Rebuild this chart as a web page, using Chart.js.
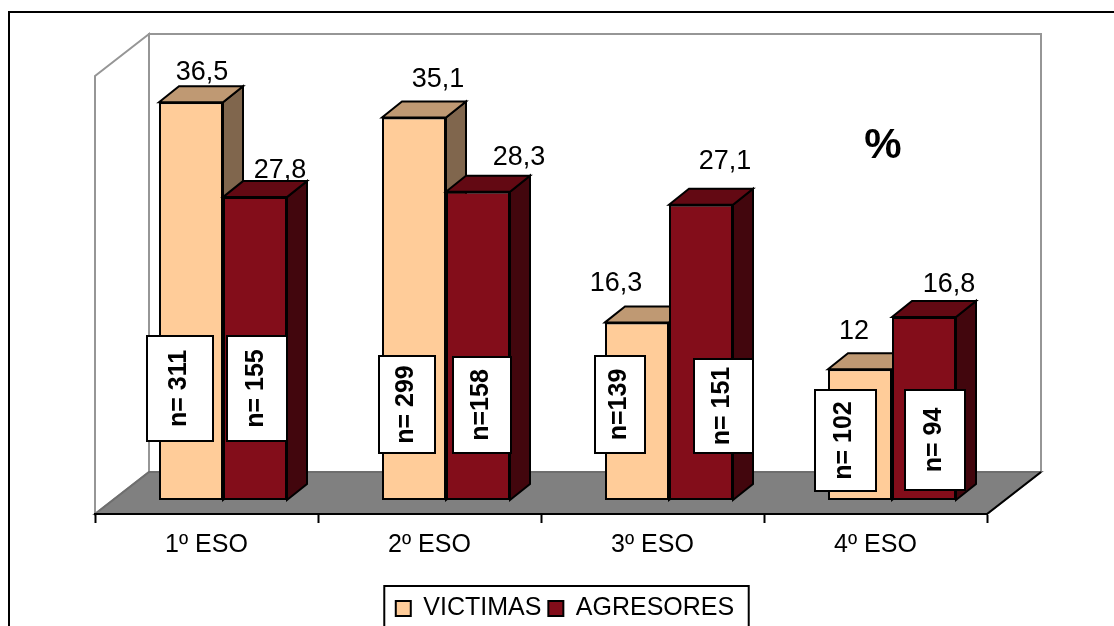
<!DOCTYPE html>
<html>
<head>
<meta charset="utf-8">
<title>Victimas y agresores por curso</title>
<script src="https://cdn.jsdelivr.net/npm/chart.js@4"></script>
<style>
html, body { margin: 0; padding: 0; background: #fff; overflow: hidden; }
canvas { display: block; }
</style>
</head>
<body>
<canvas id="chart" width="1114" height="626"></canvas>
<script>
const categories = ["1º ESO", "2º ESO", "3º ESO", "4º ESO"];
const victimas = [36.5, 35.1, 16.3, 12];
const agresores = [27.8, 28.3, 27.1, 16.8];
const nVictimas = ["n= 311", "n= 299", "n=139", "n= 102"];
const nAgresores = ["n= 155", "n=158", "n= 151", "n= 94"];

// hand placed things from the original, not data
const noteBoxesV = [[147, 336, 213, 441], [379, 356, 435, 453], [595, 356, 645, 453], [815, 390, 876, 491]];
const noteBoxesA = [[227, 336, 287, 441], [453, 357, 511, 453], [694, 359, 753, 453], [905, 390, 965, 490]];
const labelNudgeV = [[1, -6], [14, -15], [-31, -15], [-16, -14]];
const labelNudgeA = [[15, -3], [31, -11], [14, -20], [15, -9]];

const FONT = '"Liberation Sans", Arial, sans-serif';
const wall = { x: 54, y: -42 };
const plane = { x: 16.5, y: -14 };
const depth = { x: 20, y: -16 };

const faces = [
    { top: "#BF9973", side: "#80664D" },
    { top: "#630913", side: "#42060D" }
];

function poly(ctx, pts, fill, stroke, width) {
    ctx.beginPath();
    pts.forEach(function(p, i) {
        if(i === 0) ctx.moveTo(p[0], p[1]); else ctx.lineTo(p[0], p[1]);
    });
    ctx.closePath();
    if(fill) { ctx.fillStyle = fill; ctx.fill(); }
    if(stroke) { ctx.strokeStyle = stroke; ctx.lineWidth = width; ctx.lineJoin = "miter"; ctx.stroke(); }
}

const scene = {
    id: "scene",
    beforeDraw(chart) {
        const ctx = chart.ctx;
        const a = chart.chartArea;
        ctx.save();
        // outer frame, only top and left are in the shot
        ctx.strokeStyle = "#000";
        ctx.lineWidth = 2;
        ctx.beginPath();
        ctx.moveTo(9, 626);
        ctx.lineTo(9, 12);
        ctx.lineTo(1114, 12);
        ctx.stroke();

        // left wall and back wall
        poly(ctx, [[a.left, a.top], [a.left + wall.x, a.top + wall.y], [a.left + wall.x, a.bottom + wall.y], [a.left, a.bottom]], "#fff", "#969696", 2);
        poly(ctx, [[a.left + wall.x, a.top + wall.y], [a.right + wall.x, a.top + wall.y], [a.right + wall.x, a.bottom + wall.y], [a.left + wall.x, a.bottom + wall.y]], "#fff", "#969696", 2);

        // floor
        poly(ctx, [[a.left, a.bottom], [a.left + wall.x, a.bottom + wall.y], [a.right + wall.x, a.bottom + wall.y], [a.right, a.bottom]], "#808080", "#6e6e6e", 2);
        ctx.strokeStyle = "#000";
        ctx.lineWidth = 2;
        ctx.beginPath();
        ctx.moveTo(a.right, a.bottom);
        ctx.lineTo(a.right + wall.x, a.bottom + wall.y);
        ctx.stroke();
        ctx.restore();
    },
    // bars are drawn below in series order, so the red front covers the sand side face
    beforeDatasetDraw() {
        return false;
    },
    afterDatasetsDraw(chart) {
        const ctx = chart.ctx;
        ctx.save();
        ctx.translate(plane.x, plane.y);
        [0, 1].forEach(function(d) {
            const meta = chart.getDatasetMeta(d);
            const c = faces[d];
            meta.controller.draw();
            meta.data.forEach(function(bar) {
                const l = bar.x - bar.width / 2;
                const r = bar.x + bar.width / 2;
                poly(ctx, [[r, bar.y], [r + depth.x, bar.y + depth.y], [r + depth.x, bar.base + depth.y], [r, bar.base]], c.side, "#000", 2);
                poly(ctx, [[l, bar.y], [l + depth.x, bar.y + depth.y], [r + depth.x, bar.y + depth.y], [r, bar.y]], c.top, "#000", 2);
            });
        });
        ctx.restore();
        ctx.save();

        // value labels
        ctx.fillStyle = "#000";
        ctx.font = "27px " + FONT;
        ctx.textAlign = "center";
        ctx.textBaseline = "alphabetic";
        [[victimas, labelNudgeV], [agresores, labelNudgeA]].forEach(function(set, d) {
            chart.getDatasetMeta(d).data.forEach(function(bar, i) {
                const x = bar.x + plane.x + depth.x / 2 + set[1][i][0];
                const y = bar.y + plane.y + depth.y + set[1][i][1];
                ctx.fillText(String(set[0][i]).replace(".", ","), x, y);
            });
        });

        // n= boxes
        [[nVictimas, noteBoxesV], [nAgresores, noteBoxesA]].forEach(function(set) {
            set[0].forEach(function(txt, i) {
                const b = set[1][i];
                ctx.fillStyle = "#fff";
                ctx.strokeStyle = "#000";
                ctx.lineWidth = 2;
                ctx.fillRect(b[0], b[1], b[2] - b[0], b[3] - b[1]);
                ctx.strokeRect(b[0], b[1], b[2] - b[0], b[3] - b[1]);
                ctx.save();
                ctx.translate((b[0] + b[2]) / 2 - 1, (b[1] + b[3]) / 2);
                ctx.rotate(-Math.PI / 2);
                ctx.fillStyle = "#000";
                ctx.font = "bold 25px " + FONT;
                ctx.textAlign = "center";
                ctx.textBaseline = "middle";
                ctx.fillText(txt, 0, 0);
                ctx.restore();
            });
        });

        ctx.fillStyle = "#000";
        ctx.font = "bold 42px " + FONT;
        ctx.textAlign = "center";
        ctx.textBaseline = "middle";
        ctx.fillText("%", 883, 146);
        ctx.restore();
    },
    afterLayout(chart) {
        // the legend sits off centre and low in the original
        chart.legend.left += 24;
        chart.legend.right += 24;
        chart.legend.top += 5;
        chart.legend.bottom += 5;
    },
    afterDraw(chart) {
        const ctx = chart.ctx;
        const lg = chart.legend;
        const w = lg.lineWidths[0] + 19;
        const cx = (lg.left + lg.right) / 2 + 1.5;
        ctx.save();
        ctx.strokeStyle = "#000";
        ctx.lineWidth = 2;
        ctx.strokeRect(cx - w / 2, lg.top - 3, w, lg.height);
        ctx.restore();
    }
};

new Chart(document.getElementById("chart"), {
    type: "bar",
    data: {
        labels: categories,
        datasets: [{
            label: "VICTIMAS",
            data: victimas,
            backgroundColor: "#FFCC99",
            borderColor: "#000",
            borderWidth: 2,
            borderSkipped: false,
            clip: false
        }, {
            label: "AGRESORES",
            data: agresores,
            backgroundColor: "#830D1A",
            borderColor: "#000",
            borderWidth: 2,
            borderSkipped: false,
            clip: false
        }]
    },
    options: {
        responsive: false,
        animation: false,
        events: [],
        categoryPercentage: 0.574,
        barPercentage: 1,
        layout: { padding: { left: 95, right: 127, top: 76, bottom: 0 } },
        scales: {
            x: {
                grid: { offset: true, drawOnChartArea: false, drawTicks: true, tickLength: 9, color: "#000", tickColor: "#000", tickWidth: 2 },
                border: { display: true, color: "#000", width: 2 },
                ticks: { color: "#000", font: { family: FONT, size: 25 }, padding: 7, maxRotation: 0, autoSkip: false },
                afterFit(scale) { scale.height = 70; }
            },
            y: { display: false, min: 0, max: 40.2 }
        },
        plugins: {
            tooltip: { enabled: false },
            legend: {
                position: "bottom",
                labels: {
                    color: "#000",
                    font: { family: FONT, size: 25 },
                    boxWidth: 15,
                    boxHeight: 15,
                    padding: 7
                }
            }
        }
    },
    plugins: [scene]
});
</script>
</body>
</html>
